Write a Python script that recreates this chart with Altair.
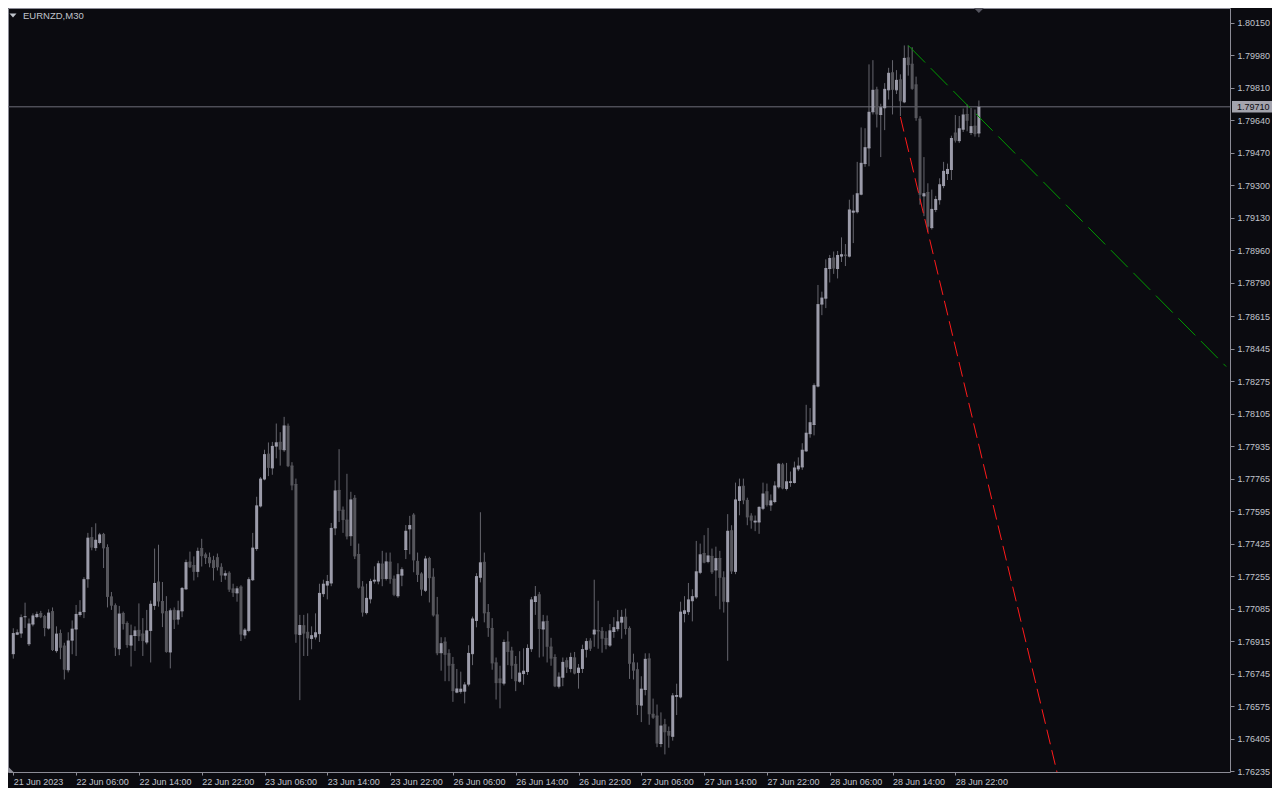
import json
import altair as alt
import pandas as pd

# ---------------- data ----------------
symbol_title = "EURNZD,M30"
time_labels = ["21 Jun 2023", "22 Jun 06:00", "22 Jun 14:00", "22 Jun 22:00",
               "23 Jun 06:00", "23 Jun 14:00", "23 Jun 22:00", "26 Jun 06:00",
               "26 Jun 14:00", "26 Jun 22:00", "27 Jun 06:00", "27 Jun 14:00",
               "27 Jun 22:00", "28 Jun 06:00", "28 Jun 14:00", "28 Jun 22:00"]
y_ticks = [1.80150, 1.79980, 1.79810, 1.79640, 1.79470, 1.79300, 1.79130, 1.78960,
           1.78790, 1.78615, 1.78445, 1.78275, 1.78105, 1.77935, 1.77765, 1.77595,
           1.77425, 1.77255, 1.77085, 1.76915, 1.76745, 1.76575, 1.76405, 1.76235]

opens = [
 1.76849, 1.76951, 1.76957, 1.77042, 1.76901, 1.77004, 1.77043, 1.77059, 1.77043, 1.76983,
 1.77069, 1.76865, 1.76954, 1.76889, 1.76765, 1.76920, 1.76978, 1.77054, 1.77069, 1.77241,
 1.77456, 1.77404, 1.77431, 1.77473, 1.77404, 1.77146, 1.77100, 1.76875, 1.77059, 1.77007,
 1.76894, 1.76944, 1.76971, 1.76952, 1.76910, 1.76971, 1.77102, 1.77224, 1.77122, 1.77069,
 1.76858, 1.77076, 1.77030, 1.77073, 1.77188, 1.77328, 1.77310, 1.77280, 1.77399, 1.77366,
 1.77351, 1.77337, 1.77351, 1.77301, 1.77260, 1.77270, 1.77188, 1.77167, 1.77198, 1.76947,
 1.76971, 1.77236, 1.77399, 1.77622, 1.77763, 1.77893, 1.77821, 1.77935, 1.77955, 1.77916,
 1.78039, 1.77831, 1.77734, 1.76950, 1.76995, 1.76961, 1.76929, 1.76937, 1.76954, 1.77163,
 1.77208, 1.77219, 1.77507, 1.77703, 1.77600, 1.77548, 1.77466, 1.77662, 1.77368, 1.77198,
 1.77064, 1.77136, 1.77229, 1.77229, 1.77318, 1.77243, 1.77328, 1.77239, 1.77152, 1.77260,
 1.77394, 1.77502, 1.77574, 1.77332, 1.77266, 1.77181, 1.77347, 1.77249, 1.77052, 1.76854,
 1.76910, 1.76849, 1.76793, 1.76648, 1.76652, 1.76653, 1.76690, 1.76849, 1.77023, 1.77249,
 1.77327, 1.77064, 1.76981, 1.76801, 1.76717, 1.76695, 1.76910, 1.76863, 1.76793, 1.76705,
 1.76745, 1.76756, 1.76875, 1.77122, 1.77157, 1.76978, 1.77018, 1.76884, 1.76829, 1.76679,
 1.76726, 1.76812, 1.76772, 1.76827, 1.76751, 1.76772, 1.76872, 1.76915, 1.76952, 1.76970,
 1.76966, 1.76929, 1.76894, 1.76965, 1.76980, 1.77014, 1.77040, 1.76981, 1.76801, 1.76765,
 1.76580, 1.76662, 1.76822, 1.76532, 1.76523, 1.76379, 1.76477, 1.76442, 1.76417, 1.76626,
 1.76623, 1.77060, 1.77069, 1.77126, 1.77146, 1.77275, 1.77373, 1.77332, 1.77358, 1.77287,
 1.77347, 1.77246, 1.77121, 1.77492, 1.77280, 1.77651, 1.77725, 1.77651, 1.77569, 1.77538,
 1.77538, 1.77610, 1.77696, 1.77627, 1.77645, 1.77722, 1.77837, 1.77713, 1.77745, 1.77745,
 1.77816, 1.77826, 1.77910, 1.78000, 1.78048, 1.78249, 1.78678, 1.78709, 1.78864, 1.78919,
 1.78864, 1.78929, 1.78935, 1.78929, 1.79159, 1.79161, 1.79253, 1.79413, 1.79495, 1.79684,
 1.79799, 1.79670, 1.79705, 1.79799, 1.79888, 1.79799, 1.79851, 1.79736, 1.79966, 1.79933,
 1.79825, 1.79646, 1.79244, 1.79262, 1.79078, 1.79173, 1.79224, 1.79298, 1.79361, 1.79382,
 1.79573, 1.79533, 1.79593, 1.79670, 1.79576, 1.79609, 1.79573]

highs = [
 1.76982, 1.76976, 1.77054, 1.77116, 1.77033, 1.77060, 1.77069, 1.77073, 1.77052, 1.77081,
 1.77091, 1.76992, 1.76975, 1.76906, 1.76961, 1.77023, 1.77104, 1.77129, 1.77249, 1.77481,
 1.77511, 1.77531, 1.77481, 1.77481, 1.77421, 1.77172, 1.77112, 1.77099, 1.77069, 1.77018,
 1.77001, 1.76992, 1.77112, 1.77035, 1.77078, 1.77127, 1.77399, 1.77419, 1.77224, 1.77150,
 1.77086, 1.77091, 1.77126, 1.77198, 1.77341, 1.77383, 1.77358, 1.77404, 1.77450, 1.77378,
 1.77378, 1.77361, 1.77373, 1.77322, 1.77284, 1.77280, 1.77215, 1.77202, 1.77207, 1.76983,
 1.77249, 1.77481, 1.77670, 1.77773, 1.77916, 1.77954, 1.77957, 1.78053, 1.78008, 1.78088,
 1.78053, 1.77851, 1.77765, 1.77052, 1.77052, 1.77060, 1.76992, 1.77060, 1.77215, 1.77236,
 1.77261, 1.77533, 1.77756, 1.77919, 1.77619, 1.77790, 1.77696, 1.77679, 1.77425, 1.77229,
 1.77215, 1.77241, 1.77306, 1.77335, 1.77387, 1.77378, 1.77378, 1.77258, 1.77322, 1.77301,
 1.77522, 1.77570, 1.77584, 1.77378, 1.77275, 1.77361, 1.77356, 1.77296, 1.77146, 1.76935,
 1.76935, 1.76872, 1.76832, 1.76769, 1.76755, 1.76700, 1.76893, 1.77043, 1.77270, 1.77589,
 1.77378, 1.77109, 1.77035, 1.76829, 1.76786, 1.76923, 1.76966, 1.76885, 1.76837, 1.76862,
 1.76877, 1.76898, 1.77146, 1.77203, 1.77172, 1.77052, 1.77049, 1.76932, 1.76846, 1.76751,
 1.76829, 1.76829, 1.76854, 1.76858, 1.76795, 1.76896, 1.76930, 1.76930, 1.77236, 1.77126,
 1.76988, 1.76966, 1.77004, 1.77040, 1.77078, 1.77078, 1.77085, 1.76992, 1.76849, 1.76803,
 1.76731, 1.76851, 1.76851, 1.76614, 1.76583, 1.76542, 1.76508, 1.76468, 1.76643, 1.76692,
 1.77121, 1.77150, 1.77219, 1.77186, 1.77439, 1.77425, 1.77469, 1.77507, 1.77399, 1.77409,
 1.77387, 1.77280, 1.77579, 1.77521, 1.77744, 1.77765, 1.77765, 1.77665, 1.77584, 1.77572,
 1.77620, 1.77744, 1.77739, 1.77682, 1.77751, 1.77847, 1.77847, 1.77847, 1.77802, 1.77854,
 1.77876, 1.77950, 1.78151, 1.78134, 1.78263, 1.78778, 1.78743, 1.78912, 1.78935, 1.78953,
 1.78956, 1.79027, 1.78992, 1.79224, 1.79250, 1.79422, 1.79602, 1.79598, 1.79932, 1.79954,
 1.79815, 1.79726, 1.79834, 1.79914, 1.79954, 1.79902, 1.79880, 1.80031, 1.80031, 1.80022,
 1.79868, 1.79661, 1.79447, 1.79310, 1.79277, 1.79244, 1.79336, 1.79422, 1.79413, 1.79559,
 1.79667, 1.79662, 1.79701, 1.79722, 1.79705, 1.79696, 1.79743]

lows = [
 1.76823, 1.76946, 1.76932, 1.76983, 1.76889, 1.76992, 1.77035, 1.77035, 1.76940, 1.76975,
 1.76863, 1.76854, 1.76820, 1.76714, 1.76751, 1.76846, 1.76837, 1.77043, 1.77035, 1.77194,
 1.77390, 1.77387, 1.77421, 1.77297, 1.77091, 1.77078, 1.76837, 1.76841, 1.76975, 1.76880,
 1.76782, 1.76863, 1.76915, 1.76837, 1.76898, 1.76803, 1.77078, 1.77095, 1.76988, 1.76854,
 1.76772, 1.76978, 1.77001, 1.77040, 1.77184, 1.77297, 1.77232, 1.77249, 1.77305, 1.77318,
 1.77301, 1.77232, 1.77284, 1.77224, 1.77236, 1.77172, 1.77146, 1.77121, 1.76915, 1.76927,
 1.76961, 1.77229, 1.77387, 1.77614, 1.77756, 1.77778, 1.77785, 1.77871, 1.77833, 1.77905,
 1.77825, 1.77704, 1.76906, 1.76606, 1.76837, 1.76837, 1.76872, 1.76923, 1.76910, 1.77146,
 1.77133, 1.77202, 1.77469, 1.77538, 1.77481, 1.77447, 1.77413, 1.77344, 1.77189, 1.77043,
 1.77054, 1.77112, 1.77215, 1.77212, 1.77202, 1.77232, 1.77215, 1.77150, 1.77141, 1.77202,
 1.77344, 1.77369, 1.77275, 1.77224, 1.77152, 1.77172, 1.77117, 1.77043, 1.76841, 1.76760,
 1.76705, 1.76705, 1.76597, 1.76642, 1.76640, 1.76589, 1.76678, 1.76789, 1.76987, 1.77222,
 1.77013, 1.76937, 1.76765, 1.76609, 1.76563, 1.76683, 1.76789, 1.76717, 1.76653, 1.76697,
 1.76686, 1.76738, 1.76858, 1.77052, 1.76829, 1.76834, 1.76803, 1.76786, 1.76674, 1.76667,
 1.76679, 1.76748, 1.76751, 1.76741, 1.76666, 1.76748, 1.76829, 1.76863, 1.76885, 1.76875,
 1.76854, 1.76872, 1.76884, 1.76932, 1.76966, 1.76927, 1.76949, 1.76717, 1.76714, 1.76528,
 1.76491, 1.76631, 1.76477, 1.76508, 1.76360, 1.76360, 1.76322, 1.76357, 1.76394, 1.76528,
 1.76615, 1.77013, 1.77052, 1.77018, 1.77136, 1.77265, 1.77322, 1.77322, 1.77266, 1.77150,
 1.77081, 1.77064, 1.76812, 1.77266, 1.77265, 1.77573, 1.77631, 1.77521, 1.77503, 1.77490,
 1.77476, 1.77600, 1.77619, 1.77596, 1.77636, 1.77713, 1.77709, 1.77703, 1.77722, 1.77739,
 1.77804, 1.77811, 1.77905, 1.77979, 1.77991, 1.78242, 1.78620, 1.78657, 1.78791, 1.78836,
 1.78812, 1.78898, 1.78877, 1.78922, 1.78997, 1.79152, 1.79247, 1.79396, 1.79399, 1.79670,
 1.79602, 1.79447, 1.79588, 1.79748, 1.79670, 1.79777, 1.79662, 1.79729, 1.79873, 1.79799,
 1.79637, 1.79198, 1.79138, 1.79056, 1.79068, 1.79159, 1.79198, 1.79284, 1.79327, 1.79327,
 1.79523, 1.79521, 1.79578, 1.79582, 1.79562, 1.79554, 1.79551]

closes = [
 1.76957, 1.76961, 1.77040, 1.77043, 1.77007, 1.77049, 1.77057, 1.77040, 1.76983, 1.77064,
 1.76868, 1.76954, 1.76880, 1.76765, 1.76918, 1.76980, 1.77057, 1.77068, 1.77239, 1.77456,
 1.77404, 1.77445, 1.77473, 1.77400, 1.77146, 1.77100, 1.76880, 1.77059, 1.77004, 1.76894,
 1.76946, 1.76971, 1.76940, 1.76915, 1.76971, 1.77110, 1.77219, 1.77122, 1.77060, 1.76858,
 1.77076, 1.77026, 1.77076, 1.77193, 1.77328, 1.77301, 1.77277, 1.77387, 1.77359, 1.77349,
 1.77322, 1.77297, 1.77301, 1.77258, 1.77270, 1.77184, 1.77167, 1.77191, 1.76949, 1.76975,
 1.77239, 1.77404, 1.77625, 1.77765, 1.77893, 1.77821, 1.77936, 1.77955, 1.77916, 1.78043,
 1.77830, 1.77729, 1.76950, 1.76999, 1.76954, 1.76929, 1.76946, 1.76961, 1.77167, 1.77215,
 1.77229, 1.77507, 1.77703, 1.77596, 1.77548, 1.77462, 1.77656, 1.77358, 1.77194, 1.77064,
 1.77141, 1.77229, 1.77236, 1.77322, 1.77239, 1.77332, 1.77239, 1.77157, 1.77265, 1.77291,
 1.77492, 1.77522, 1.77337, 1.77261, 1.77184, 1.77347, 1.77244, 1.77049, 1.76851, 1.76904,
 1.76843, 1.76786, 1.76653, 1.76667, 1.76666, 1.76688, 1.76853, 1.77033, 1.77255, 1.77327,
 1.77060, 1.76983, 1.76798, 1.76695, 1.76695, 1.76910, 1.76858, 1.76786, 1.76705, 1.76750,
 1.76760, 1.76879, 1.77133, 1.77150, 1.76978, 1.77018, 1.76885, 1.76823, 1.76678, 1.76729,
 1.76806, 1.76777, 1.76832, 1.76745, 1.76776, 1.76873, 1.76915, 1.76875, 1.76975, 1.76965,
 1.76927, 1.76894, 1.76971, 1.76988, 1.77018, 1.77042, 1.76978, 1.76796, 1.76760, 1.76580,
 1.76666, 1.76822, 1.76532, 1.76514, 1.76379, 1.76473, 1.76438, 1.76420, 1.76631, 1.76633,
 1.77069, 1.77076, 1.77133, 1.77150, 1.77280, 1.77369, 1.77325, 1.77363, 1.77275, 1.77349,
 1.77246, 1.77121, 1.77492, 1.77279, 1.77656, 1.77725, 1.77651, 1.77562, 1.77545, 1.77545,
 1.77617, 1.77687, 1.77627, 1.77651, 1.77729, 1.77843, 1.77713, 1.77751, 1.77751, 1.77823,
 1.77833, 1.77916, 1.78005, 1.78060, 1.78254, 1.78678, 1.78712, 1.78867, 1.78919, 1.78864,
 1.78935, 1.78939, 1.78929, 1.79173, 1.79167, 1.79258, 1.79417, 1.79499, 1.79684, 1.79799,
 1.79670, 1.79708, 1.79804, 1.79888, 1.79799, 1.79851, 1.79739, 1.79966, 1.79928, 1.79804,
 1.79651, 1.79250, 1.79258, 1.79083, 1.79176, 1.79228, 1.79305, 1.79375, 1.79385, 1.79547,
 1.79533, 1.79598, 1.79670, 1.79637, 1.79609, 1.79567, 1.79710]

current_price = 1.79710
green_bars = [228, 309]
green_prices = [1.80031, 1.78351]
red_bars = [226, 268]
red_prices = [1.79657, 1.76049]

# ---------------- style / layout ----------------
W, H = 1222, 764
BG = "#0b0b10"
FRAME = "#8c8c96"
TXT = "#c0c4cc"
BULL = "#9c9caa"
BEAR = "#56565c"
WICK = "#66666e"
FONT = "Liberation Sans"

n = len(opens)
df = pd.DataFrame({"i": list(range(n)), "open": opens, "high": highs,
                   "low": lows, "close": closes})
df["dir"] = ["up" if c >= o else "down" for o, c in zip(opens, closes)]

xscale = alt.Scale(domain=[-0.075, 308.7], nice=False, zero=False)
yscale = alt.Scale(domain=[1.76230, 1.80227], nice=False, zero=False)

label_expr = json.dumps(time_labels) + "[round(datum.value / 16)]"
xaxis = alt.Axis(values=list(range(0, 16 * len(time_labels), 16)), labelExpr=label_expr,
                 orient="bottom", title=None, grid=False, domain=False,
                 tickSize=3, tickColor=FRAME, labelColor=TXT, labelFont=FONT,
                 labelFontSize=9, labelAlign="left", labelPadding=2,
                 labelOverlap=False, labelFlush=False, labelBound=False)
yaxis = alt.Axis(values=y_ticks, format=".5f", orient="right", title=None,
                 grid=False, domain=False, tickSize=4, tickColor=FRAME,
                 labelColor=TXT, labelFont=FONT, labelFontSize=9, labelPadding=3,
                 labelOverlap=False, labelFlush=False, labelBound=False)

X = alt.X("i:Q", scale=xscale, axis=xaxis)
col_body = alt.Color("dir:N", scale=alt.Scale(domain=["up", "down"], range=[BULL, BEAR]),
                     legend=None)

base = alt.Chart(df)

wicks = base.mark_rule(strokeWidth=1, color=WICK).encode(
    x=X, y=alt.Y("low:Q", scale=yscale, axis=yaxis), y2="high:Q")

bodies = base.mark_bar(size=3).encode(
    x=X, y=alt.Y("open:Q", scale=yscale, axis=yaxis), y2="close:Q", color=col_body)

doji = base.mark_rule(strokeWidth=1, xOffset=-1.5, x2Offset=1.5).encode(
    x=X, x2="i:Q", y=alt.Y("open:Q", scale=yscale, axis=yaxis), color=col_body)

price_df = pd.DataFrame({"p": [current_price]})
price_line = alt.Chart(price_df).mark_rule(color="#6e6e78", strokeWidth=1).encode(
    y=alt.Y("p:Q", scale=yscale, axis=yaxis))
price_box = alt.Chart(price_df).mark_point(
    shape="M-1,-0.29L1,-0.29L1,0.29L-1,0.29Z", size=1600, filled=True,
    color="#a4a4ae", opacity=1, strokeWidth=0).encode(
    x=alt.value(W + 22), y=alt.Y("p:Q", scale=yscale, axis=yaxis))
price_txt = alt.Chart(price_df).mark_text(
    align="left", baseline="middle", font=FONT, fontSize=9, color="#0b0b10").encode(
    x=alt.value(W + 7), y=alt.Y("p:Q", scale=yscale, axis=yaxis),
    text=alt.Text("p:Q", format=".5f"))

green = alt.Chart(pd.DataFrame({"bar": green_bars, "price": green_prices})).mark_line(
    color="#009a00", strokeWidth=1, strokeDash=[24, 8], clip=True).encode(
    x=alt.X("bar:Q", scale=xscale, axis=xaxis),
    y=alt.Y("price:Q", scale=yscale, axis=yaxis))
red = alt.Chart(pd.DataFrame({"bar": red_bars, "price": red_prices})).mark_line(
    color="#ff1a1a", strokeWidth=1, strokeDash=[15, 6], clip=True).encode(
    x=alt.X("bar:Q", scale=xscale, axis=xaxis),
    y=alt.Y("price:Q", scale=yscale, axis=yaxis))

title_df = pd.DataFrame({"t": [symbol_title]})
title_txt = alt.Chart(title_df).mark_text(
    align="left", baseline="middle", font=FONT, fontSize=9.5, color=TXT).encode(
    x=alt.value(15), y=alt.value(8), text="t:N")
title_tri = alt.Chart(title_df).mark_point(
    shape="M-1,-0.55L1,-0.55L0,0.55Z", size=49, filled=True, color=TXT,
    opacity=1, strokeWidth=0).encode(x=alt.value(5), y=alt.value(7.5))

shift_tri = alt.Chart(pd.DataFrame({"bar": [n - 1]})).mark_point(
    shape="M-1,-0.5L1,-0.5L0,0.5Z", size=100, filled=True, color="#55555f",
    opacity=1, strokeWidth=0).encode(
    x=alt.X("bar:Q", scale=xscale, axis=xaxis), y=alt.value(2.5))
corner_tri = alt.Chart(title_df).mark_point(
    shape="M-1,-1L1,1L-1,1Z", size=25, filled=True, color="#8a8a94",
    opacity=1, strokeWidth=0).encode(x=alt.value(3), y=alt.value(H - 2.5))

chart = alt.layer(
    price_line, wicks, bodies, doji, green, red, price_box, price_txt,
    title_tri, title_txt, shift_tri, corner_tri
).properties(
    width=W, height=H, background=BG,
    padding={"left": 0, "top": 0, "right": 42, "bottom": 16},
    autosize=alt.AutoSizeParams(type="none"),
).configure_view(
    stroke=FRAME, strokeWidth=1, fill=BG
)

chart.save("out.html", embed_options={"renderer": "svg", "actions": False})
